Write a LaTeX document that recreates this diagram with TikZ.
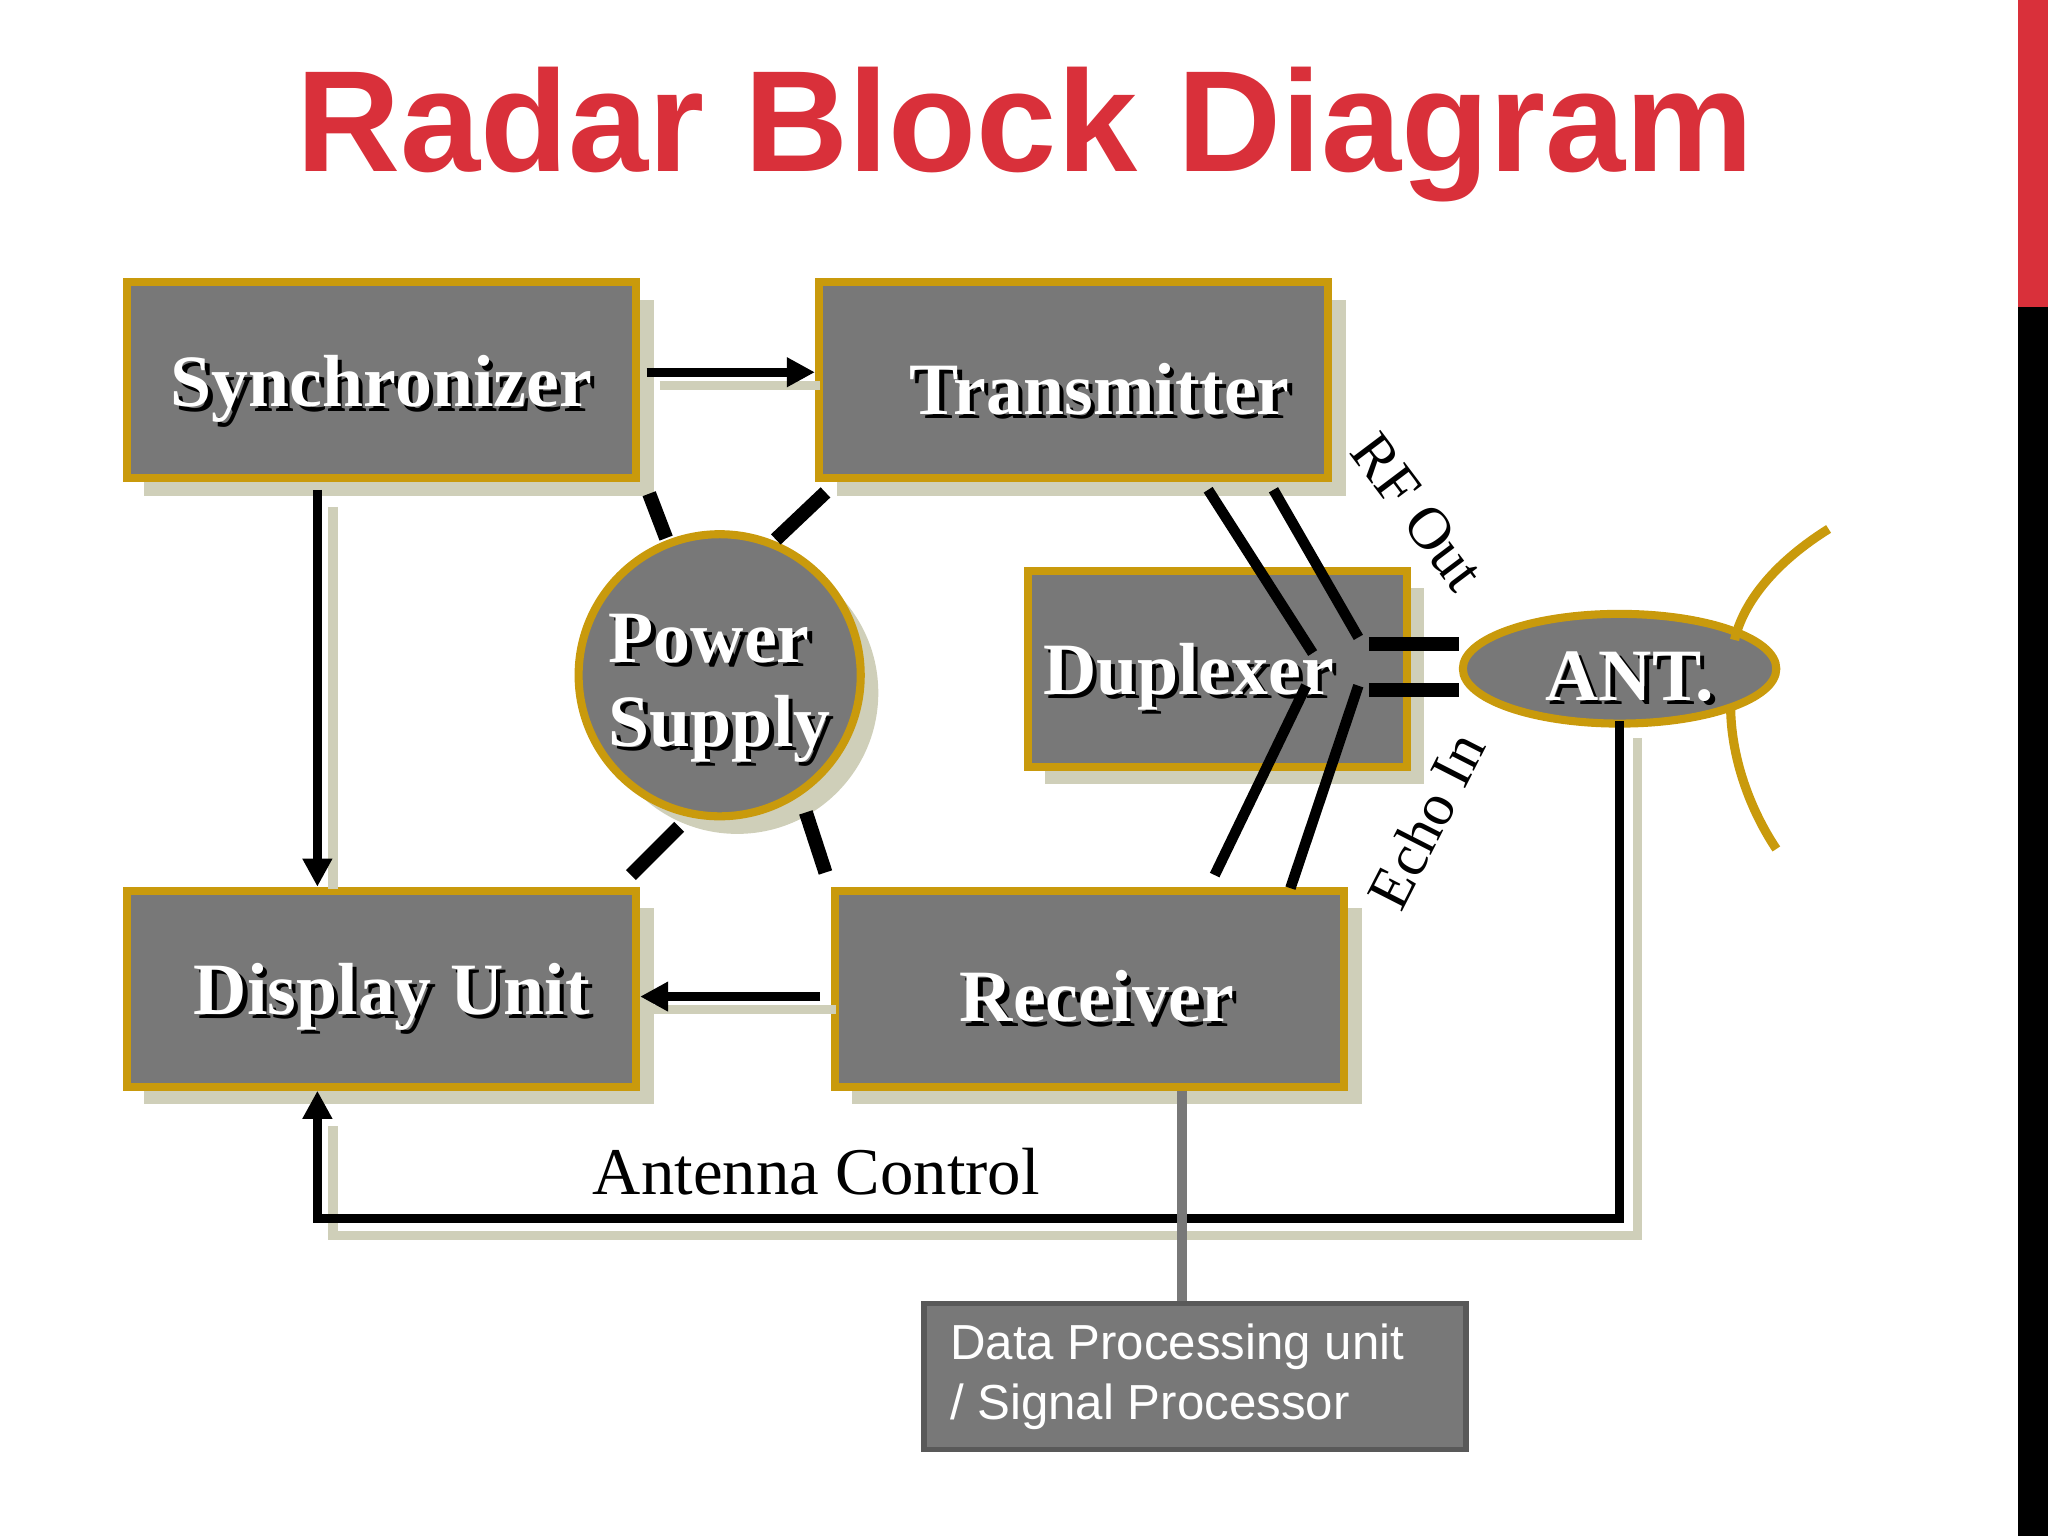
\documentclass[tikz,border=0pt]{standalone}
\usepackage{fontspec}
\setmainfont{Liberation Serif}
\setsansfont{Liberation Sans}
\usetikzlibrary{shadows,arrows.meta,shapes.geometric}
\definecolor{boxgray}{HTML}{787878}
\definecolor{gold}{HTML}{C99A0C}
\definecolor{shadecol}{HTML}{CFCFB9}
\definecolor{titlered}{HTML}{D9303A}
\newcommand\pxu{0.01306cm}
\tikzset{
  blk/.style={draw=gold, fill=boxgray, line width=2.3pt, minimum width={390*\pxu}, minimum height={150*\pxu},
    drop shadow={shadow xshift=5pt, shadow yshift=-5pt, fill=shadecol, opacity=1}},
  lbl/.style={text=white, font=\bfseries\fontsize{21}{24}\selectfont},
  lblsh/.style={text=black, font=\bfseries\fontsize{21}{24}\selectfont},
  conn/.style={line width=2.6pt},
  arr/.style={conn, -{Triangle[length=8pt,width=8pt]}},
  sh/.style={line width=2.6pt, draw=shadecol},
}
\newcommand\shtext[3]{% position, name, text
  \node[lblsh, align=left] at ([xshift=1.2pt,yshift=-1.2pt]#1) {#3};
  \node[lbl, align=left] (#2) at (#1) {#3};}
\begin{document}
\begin{tikzpicture}[x=0.01306cm, y=-0.01306cm]
\useasboundingbox (0,0) rectangle (1568,1176);
\fill[titlered] (1545,0) rectangle (1568,235);
\fill[black] (1545,235) rectangle (1568,1176);
\node[text=titlered, font=\sffamily\bfseries\fontsize{41}{44}\selectfont] (title) at (785,103) {Radar Block Diagram};

% blocks
\node[blk] (sync) at (292,291) {};
\node[blk] (trans) at (822,291) {};
\node[blk, minimum width={290*\pxu}] (dup) at (932,512) {};
\node[blk] (disp) at (292,757) {};
\node[blk] (rec) at (834,757) {};
\node[circle, draw=gold, fill=boxgray, line width=2.3pt, minimum size={216*\pxu},
  drop shadow={shadow xshift=5pt, shadow yshift=-5pt, fill=shadecol, opacity=1}] (ps) at (551,517) {};
\node[ellipse, draw=gold, fill=boxgray, line width=2.3pt, minimum width={240*\pxu}, minimum height={84*\pxu}] (ant) at (1240,512) {};
\draw[gold, line width=2.6pt] (1400,405) .. controls (1360,430) and (1335,460) .. (1328,490);
\draw[gold, line width=2.6pt] (1325,540) .. controls (1325,580) and (1340,620) .. (1360,650);

\shtext{292,298}{tsync}{Synchronizer}
\shtext{842,298}{ttrans}{Transmitter}
\shtext{910,518}{tdup}{Duplexer}
\shtext{300,763}{tdisp}{Display Unit}
\shtext{840,763}{trec}{Receiver}
\shtext{551,527}{tps}{Power\\Supply}
\shtext{1248,518}{tant}{ANT.}

% arrows with shadows
\draw[sh] (505,295) -- (628,295);
\draw[arr] (495,285) -- (trans.west|-0,285);
\draw[sh] (255,388) -- (255,681);
\draw[arr] (243,375) -- (disp.north-|243,0);
\draw[sh] (640,773) -- (500,773);
\draw[arr] (628,763) -- (disp.east|-0,763);
\draw[sh] (1254,565) -- (1254,946) -- (255,946) -- (255,862);
\draw[arr] (1240,552) -- (1240,933) -- (243,933) -- (disp.south-|243,0);
\node[font=\fontsize{19}{22}\selectfont] (ac) at (625,897) {Antenna Control};

% power lines
\draw[line width=4pt] (497,378) -- (510,412);
\draw[line width=4pt] (594,413) -- (632,377);
\draw[line width=4pt] (520,633) -- (483,670);
\draw[line width=4pt] (617,622) -- (632,668);

% duplexer lines
\draw[line width=3pt] (925,375) -- (1005,500);
\draw[line width=3pt] (975,375) -- (1040,488);
\draw[line width=3pt] (930,670) -- (1000,525);
\draw[line width=3pt] (988,680) -- (1040,525);
\draw[line width=4pt] (1048,493) -- (ant.west|-0,493);
\draw[line width=4pt] (1048,528) -- (ant.west|-0,528);
\node[rotate=-53, font=\fontsize{17}{20}\selectfont] (rf) at (1085,392) {RF Out};
\node[rotate=63, font=\fontsize{17}{20}\selectfont] (echo) at (1092,628) {Echo In};

% data processing
\node[draw=black!65, fill=boxgray, line width=1.5pt, minimum width={415*\pxu}, minimum height={112*\pxu}] (dp) at (915,1054) {};
\node[text=white, font=\sffamily\fontsize{14}{17}\selectfont, align=left, anchor=west] (tdp) at (718,1054) {Data Processing unit\\/ Signal Processor};
\draw[boxgray, line width=3pt] (rec.south-|905,0) -- (dp.north-|905,0);
\end{tikzpicture}
\end{document}
